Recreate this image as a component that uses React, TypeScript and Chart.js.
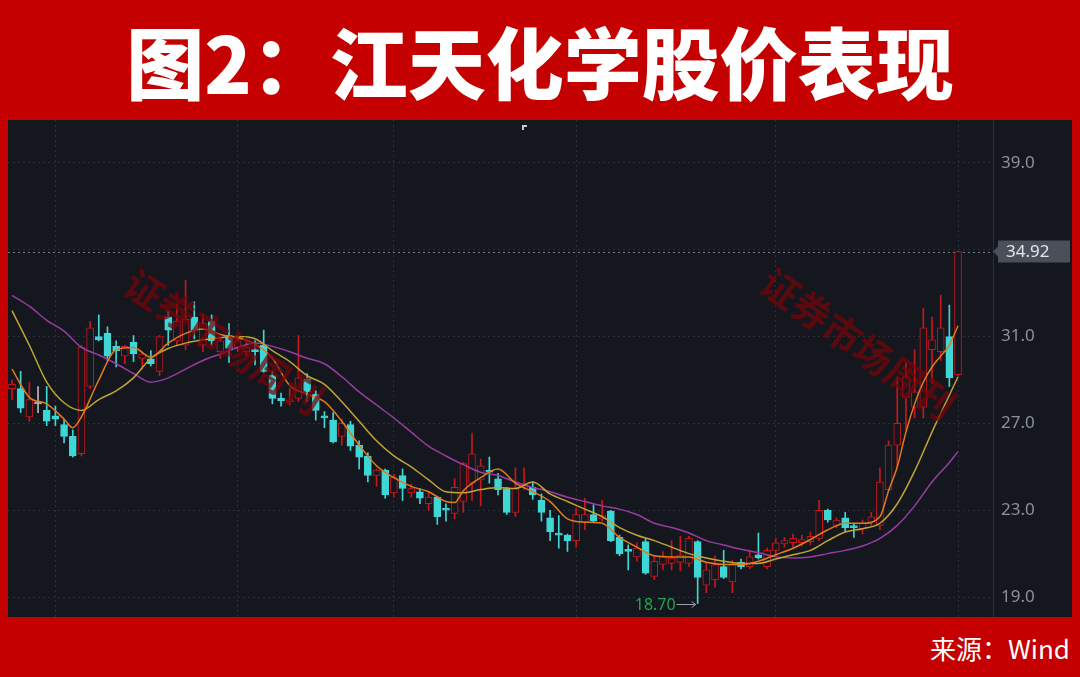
import React, { useEffect, useRef } from "react";
import { Chart, registerables } from "chart.js";
Chart.register(...registerables);

// ---- Daily K-line data ----
const opens = [
  28.6, 28.6, 27.3, 27.9, 27.6, 27.35, 26.95, 26.4, 25.6, 28.7,
  31.0, 31.15, 30.55, 30.1, 30.75, 30.0, 29.98, 29.4, 31.9, 30.8,
  30.6, 31.9, 30.6, 31.7, 30.3, 31.05, 30.5, 30.3, 30.4, 30.6,
  29.2, 28.15, 28.0, 28.15, 29.05, 28.35, 27.35, 27.15, 26.4, 26.95,
  26.0, 25.5, 24.6, 24.85, 23.8, 24.6, 23.8, 23.85, 23.3, 23.6,
  23.05, 22.85, 23.4, 24.25, 24.4, 24.8, 24.45, 24.0, 22.9, 24.05,
  24.05, 23.45, 22.65, 21.95, 21.85, 21.6, 22.45, 22.8, 22.6, 22.95,
  21.75, 21.2, 20.85, 21.55, 19.95, 20.5, 20.55, 20.6, 20.55, 21.55,
  19.55, 19.8, 20.4, 19.7, 20.6, 20.4, 20.95, 20.4, 21.15, 21.45,
  21.5, 21.5, 21.55, 21.7, 23.0, 22.3, 22.65, 22.25, 22.15, 22.45,
  22.3, 23.95, 26.0, 28.2, 27.75, 27.75, 30.4, 30.3, 31.0, 29.25,
];
const highs = [
  29.0, 29.4, 28.9, 28.7, 28.7, 27.8, 27.2, 26.7, 30.6, 31.7,
  32.0, 31.45, 30.8, 30.6, 31.05, 30.3, 30.35, 31.05, 32.15, 32.5,
  33.6, 32.6, 32.0, 32.0, 31.0, 31.6, 31.0, 30.8, 30.8, 31.3,
  29.4, 28.4, 28.6, 31.05, 29.3, 28.5, 27.55, 27.5, 27.2, 27.1,
  26.2, 25.65, 24.9, 24.9, 24.65, 24.9, 24.2, 24.0, 23.85, 23.65,
  23.3, 24.45, 25.2, 26.55, 25.35, 25.45, 24.7, 24.05, 24.95, 24.95,
  24.3, 23.75, 23.0, 22.75, 21.9, 23.1, 23.55, 23.25, 23.45, 23.0,
  21.85, 21.4, 21.5, 21.7, 20.9, 21.1, 21.6, 21.8, 21.8, 21.6,
  20.6, 20.9, 21.15, 20.7, 20.75, 21.15, 21.95, 21.25, 21.7, 21.75,
  21.9, 21.85, 22.0, 23.45, 23.05, 22.65, 22.9, 22.4, 22.55, 22.9,
  24.95, 26.2, 29.15, 29.8, 30.4, 32.3, 31.9, 32.9, 32.45, 34.92,
];
const lows = [
  28.1, 27.5, 27.1, 27.5, 26.9, 26.9, 26.1, 25.45, 25.5, 28.6,
  30.8, 29.9, 29.6, 29.75, 29.85, 29.5, 29.65, 29.2, 30.6, 30.6,
  30.4, 30.9, 30.3, 30.6, 30.0, 29.8, 30.3, 30.1, 29.7, 29.35,
  27.9, 27.8, 27.85, 28.0, 28.0, 27.15, 26.8, 26.1, 26.0, 25.75,
  24.9, 24.3, 24.1, 23.55, 23.6, 23.45, 23.6, 23.3, 23.0, 22.35,
  22.5, 22.6, 22.9, 23.45, 23.2, 24.25, 23.7, 22.8, 22.7, 23.95,
  23.5, 22.5, 21.6, 21.25, 21.1, 21.3, 22.1, 22.45, 22.5, 21.55,
  20.9, 20.25, 20.65, 20.05, 19.8, 20.25, 20.25, 20.2, 20.4, 18.7,
  19.2, 19.45, 19.85, 19.2, 20.3, 20.3, 20.75, 20.3, 20.9, 21.3,
  21.3, 21.35, 21.4, 21.6, 22.45, 22.2, 22.0, 21.75, 21.9, 22.3,
  22.1, 23.9, 25.0, 26.7, 27.25, 27.25, 28.85, 29.9, 28.7, 29.2,
];
const closes = [
  28.8, 27.7, 28.1, 27.9, 27.1, 27.2, 26.4, 25.5, 30.5, 31.4,
  30.85, 30.1, 30.35, 30.55, 30.2, 30.2, 29.75, 31.0, 31.3, 31.7,
  31.8, 31.3, 31.6, 30.8, 30.8, 30.45, 30.8, 30.5, 30.3, 29.4,
  28.15, 28.05, 28.05, 29.1, 28.45, 27.6, 27.25, 26.15, 27.0, 25.95,
  25.45, 24.6, 24.85, 23.7, 24.5, 24.0, 24.0, 23.55, 23.6, 22.7,
  23.0, 24.05, 25.15, 25.6, 25.05, 24.75, 23.95, 22.9, 24.0, 24.2,
  23.7, 22.9, 22.0, 21.85, 21.6, 22.8, 22.8, 22.5, 22.75, 21.6,
  21.0, 21.1, 21.25, 20.1, 20.65, 20.85, 20.8, 20.95, 21.7, 19.9,
  20.25, 20.5, 19.9, 20.5, 20.4, 20.85, 20.8, 21.15, 21.5, 21.6,
  21.7, 21.65, 21.8, 23.0, 22.55, 22.55, 22.2, 22.2, 22.4, 22.7,
  24.3, 26.0, 27.0, 29.15, 28.45, 31.4, 30.85, 31.4, 29.1, 34.92,
];

// ---- Moving averages (at candle positions) ----
const ma5Idx = [
  1, 3, 5, 7, 8, 9, 11, 13, 15, 17, 19, 21, 23, 25, 27, 29, 31, 33, 35, 37,
  39, 41, 43, 45, 47, 49, 51, 52, 53, 55, 57, 59, 61, 63, 65, 67, 69, 71, 73, 75,
  77, 79, 81, 83, 85, 87, 89, 91, 93, 95, 97, 99, 101, 102, 103, 104, 105, 106, 107, 108,
  109, 110,
];
const ma5Val = [
  29.5, 28.2, 27.9, 27.2, 26.8, 27.3, 29.0, 30.4, 30.5, 30.05, 30.7, 31.15, 31.35, 31.1, 30.95, 30.65, 30.0, 28.75, 28.35, 28.0,
  27.1, 26.0, 25.05, 24.5, 24.1, 23.85, 23.4, 23.35, 23.9, 24.5, 24.9, 24.25, 23.85, 23.4, 22.6, 22.45, 22.4, 21.75, 21.3, 20.9,
  20.85, 20.85, 20.6, 20.5, 20.5, 20.65, 20.95, 21.25, 21.65, 22.1, 22.4, 22.4, 22.7, 23.9, 25.0, 26.6, 27.9, 28.9, 29.6, 30.1,
  30.6, 31.5,
];
const ma10Idx = [
  1, 3, 5, 7, 9, 11, 13, 15, 17, 19, 21, 23, 25, 27, 29, 31, 33, 35, 37, 39,
  41, 43, 45, 47, 49, 51, 53, 55, 57, 59, 61, 63, 65, 67, 69, 71, 73, 75, 77, 79,
  81, 83, 85, 87, 89, 91, 93, 95, 97, 99, 101, 103, 105, 107, 109, 110,
];
const ma10Val = [
  32.2, 30.6, 28.9, 27.95, 27.6, 28.1, 28.5, 29.1, 30.0, 30.45, 30.7, 30.85, 30.95, 31.0, 30.9, 30.35, 29.85, 29.2, 28.8, 28.0,
  27.1, 26.2, 25.5, 25.0, 24.4, 23.85, 23.8, 23.95, 24.05, 24.0, 24.3, 23.75, 23.4, 23.05, 22.7, 22.2, 21.85, 21.6, 21.3, 21.0,
  20.8, 20.65, 20.55, 20.55, 20.75, 20.95, 21.15, 21.6, 22.0, 22.15, 22.4, 23.3, 24.8, 26.6, 28.3, 29.15,
];
const ma30Idx = ma10Idx;
const ma30Val = [
  32.9, 32.4, 31.75, 31.25, 30.5, 30.15, 29.75, 29.3, 28.9, 29.1, 29.5, 29.9, 30.2, 30.5, 30.7, 30.55, 30.3, 30.0, 29.75, 29.15,
  28.45, 27.85, 27.25, 26.6, 25.95, 25.5, 25.1, 24.75, 24.6, 24.3, 24.05, 23.85, 23.6, 23.4, 23.2, 23.05, 22.8, 22.4, 22.2, 21.95,
  21.6, 21.4, 21.2, 21.05, 20.85, 20.8, 20.85, 21.0, 21.15, 21.35, 21.7, 22.3, 23.2, 24.3, 25.2, 25.7,
];

// ---- Axis / annotation values ----
const yTicks = [19, 23, 27, 31, 35, 39];
const monthIdx = [6, 27, 45, 66, 89, 110];
const lastPrice = 34.92;
const lowIdx = 80;
const lowPrice = 18.7;
const topMarkIdx = 60;
const watermarkText = "证券市场周刊";

const BG = "#14181e";
const UP = "#c8161c";
const DOWN = "#3fd6d6";
const FLAT = "#b8b8b8";

export default function App() {
  const ref = useRef<HTMLCanvasElement>(null);

  useEffect(() => {
    document.body.style.margin = "0";
    const idx = closes.map((_, i) => i + 1);
    const colorOf = (i: number) =>
      closes[i] > opens[i] ? UP : closes[i] < opens[i] ? DOWN : FLAT;
    const bodyData = idx.map((x, i) => ({
      x,
      y: [Math.min(opens[i], closes[i]), Math.max(opens[i], closes[i])],
    }));
    const wickData = idx.map((x, i) => ({ x, y: [lows[i], highs[i]] }));
    const colors = idx.map((_, i) => colorOf(i));
    const fills = idx.map((_, i) => (closes[i] > opens[i] ? BG : colorOf(i)));
    const toPts = (ix: number[], v: number[]) => ix.map((x, i) => ({ x, y: v[i] }));

    const overlay = {
      id: "overlay",
      beforeDatasetsDraw(chart: any) {
        const { ctx, chartArea, scales } = chart;
        const py = Math.round(scales.y.getPixelForValue(lastPrice)) + 0.5;
        ctx.save();
        ctx.strokeStyle = "rgba(150,155,165,0.75)";
        ctx.lineWidth = 1;
        ctx.setLineDash([2, 3]);
        ctx.beginPath();
        ctx.moveTo(chartArea.left, py);
        ctx.lineTo(chartArea.right, py);
        ctx.stroke();
        ctx.restore();
      },
      afterDatasetsDraw(chart: any) {
        const { ctx, chartArea, scales } = chart;
        const { x, y } = scales;
        // watermarks
        ctx.save();
        ctx.beginPath();
        ctx.rect(chartArea.left, chartArea.top, chartArea.right - chartArea.left, chartArea.bottom - chartArea.top);
        ctx.clip();
        const marks = [
          { cx: 216, cy: 222, a: 0.58 },
          { cx: 850, cy: 224, a: 0.62 },
        ];
        ctx.font = "bold 38px 'Noto Sans CJK SC'";
        ctx.textAlign = "center";
        ctx.textBaseline = "middle";
        ctx.fillStyle = "rgba(118,4,10,0.72)";
        for (const m of marks) {
          ctx.save();
          ctx.translate(m.cx, m.cy);
          ctx.rotate(m.a);
          ctx.fillText(watermarkText, 0, 0);
          ctx.restore();
        }
        ctx.restore();

        // low annotation
        const lx = x.getPixelForValue(lowIdx);
        const ly = Math.round(y.getPixelForValue(lowPrice)) + 0.5;
        ctx.save();
        ctx.strokeStyle = "#9aa0a8";
        ctx.lineWidth = 1;
        ctx.beginPath();
        ctx.moveTo(lx - 21, ly);
        ctx.lineTo(lx - 2, ly);
        ctx.moveTo(lx - 6, ly - 3);
        ctx.lineTo(lx - 2, ly);
        ctx.lineTo(lx - 6, ly + 3);
        ctx.stroke();
        ctx.fillStyle = "#22a24c";
        ctx.font = "16px 'Noto Sans'";
        ctx.textAlign = "right";
        ctx.textBaseline = "middle";
        ctx.fillText(lowPrice.toFixed(2), lx - 22, ly + 1);
        // small marker at top
        const tx = Math.round(x.getPixelForValue(topMarkIdx));
        ctx.fillStyle = "#c8c8c8";
        ctx.fillRect(tx - 2, chartArea.top + 5, 5, 2);
        ctx.fillRect(tx - 2, chartArea.top + 5, 2, 5);
        ctx.restore();
      },
      afterDraw(chart: any) {
        const { ctx, chartArea, scales } = chart;
        const py = scales.y.getPixelForValue(lastPrice);
        const bx = chartArea.right + 5;
        const bw = 72;
        const bh = 22;
        ctx.save();
        ctx.fillStyle = "#4a4f59";
        ctx.beginPath();
        ctx.moveTo(chartArea.right, py);
        ctx.lineTo(bx, py - 5);
        ctx.lineTo(bx, py - bh / 2);
        ctx.lineTo(bx + bw, py - bh / 2);
        ctx.lineTo(bx + bw, py + bh / 2);
        ctx.lineTo(bx, py + bh / 2);
        ctx.lineTo(bx, py + 5);
        ctx.closePath();
        ctx.fill();
        ctx.fillStyle = "#e4e6ea";
        ctx.font = "17px 'Noto Sans'";
        ctx.textAlign = "left";
        ctx.textBaseline = "middle";
        ctx.fillText(lastPrice.toFixed(2), bx + 8, py + 1);
        ctx.restore();
      },
    };

    const chart = new Chart(ref.current as HTMLCanvasElement, {
      type: "bar",
      data: {
        datasets: [
          {
            type: "line",
            label: "MA5",
            data: toPts(ma5Idx, ma5Val),
            borderColor: "#e27b1c",
            borderWidth: 1.5,
            pointRadius: 0,
            cubicInterpolationMode: "monotone",
            order: 1,
          } as any,
          {
            type: "line",
            label: "MA10",
            data: toPts(ma10Idx, ma10Val),
            borderColor: "#c2a335",
            borderWidth: 1.5,
            pointRadius: 0,
            cubicInterpolationMode: "monotone",
            order: 1,
          } as any,
          {
            type: "line",
            label: "MA30",
            data: toPts(ma30Idx, ma30Val),
            borderColor: "#9a3aa3",
            borderWidth: 1.5,
            pointRadius: 0,
            cubicInterpolationMode: "monotone",
            order: 1,
          } as any,
          {
            type: "bar",
            label: "body",
            data: bodyData as any,
            backgroundColor: fills,
            borderColor: colors,
            borderWidth: 1,
            borderSkipped: false,
            barThickness: 7,
            minBarLength: 2,
            grouped: false,
            order: 2,
          } as any,
          {
            type: "bar",
            label: "wick",
            data: wickData as any,
            backgroundColor: colors,
            borderWidth: 0,
            barThickness: 1,
            grouped: false,
            order: 3,
          } as any,
        ],
      },
      options: {
        animation: false,
        responsive: true,
        maintainAspectRatio: false,
        layout: { padding: 0 },
        plugins: { legend: { display: false }, tooltip: { enabled: false } },
        scales: {
          x: {
            type: "linear",
            min: 0.539,
            max: 114.03,
            offset: false,
            grid: { color: "#2b2f37", drawTicks: false, lineWidth: 1, offset: false },
            border: { display: false, dash: [2, 3] },
            ticks: { display: false },
            afterBuildTicks: (s: any) => {
              s.ticks = monthIdx.map((v) => ({ value: v }));
            },
            afterFit: (s: any) => {
              s.height = 0;
              s.paddingLeft = 0;
              s.paddingRight = 0;
            },
          },
          y: {
            type: "linear",
            position: "right",
            min: 18.08,
            max: 40.98,
            grid: { color: "#2b2f37", drawTicks: false, lineWidth: 1 },
            border: { display: true, color: "#2b2f37", dash: [2, 3] },
            ticks: {
              color: "#8b9099",
              padding: 8,
              font: { family: "'Noto Sans'", size: 17 },
              callback: (v: any) => Number(v).toFixed(1),
            },
            afterBuildTicks: (s: any) => {
              s.ticks = yTicks.map((v) => ({ value: v }));
            },
            afterFit: (s: any) => {
              s.width = 79;
              s.paddingTop = 0;
              s.paddingBottom = 0;
            },
          },
        },
      } as any,
      plugins: [overlay],
    });
    return () => chart.destroy();
  }, []);

  return (
    <div
      style={{
        position: "absolute",
        left: 0,
        top: 0,
        width: 1080,
        height: 677,
        background: "#c40000",
        overflow: "hidden",
      }}
    >
      <div
        style={{
          position: "absolute",
          left: 0,
          top: 0,
          width: 1080,
          height: 120,
          display: "flex",
          alignItems: "center",
          justifyContent: "center",
          color: "#ffffff",
          fontFamily: "'Noto Sans CJK SC', sans-serif",
          fontWeight: 900,
          fontSize: 78,
          lineHeight: "120px",
          whiteSpace: "nowrap",
        }}
      >
        图2：江天化学股价表现
      </div>
      <div
        style={{
          position: "absolute",
          left: 8,
          top: 120,
          width: 1064,
          height: 497,
          background: BG,
        }}
      >
        <canvas ref={ref} />
      </div>
      <div
        style={{
          position: "absolute",
          right: 10,
          top: 630,
          color: "#ffffff",
          fontFamily: "'Noto Sans CJK SC', sans-serif",
          fontSize: 26,
          lineHeight: "36px",
          whiteSpace: "nowrap",
        }}
      >
        来源：Wind
      </div>
    </div>
  );
}
